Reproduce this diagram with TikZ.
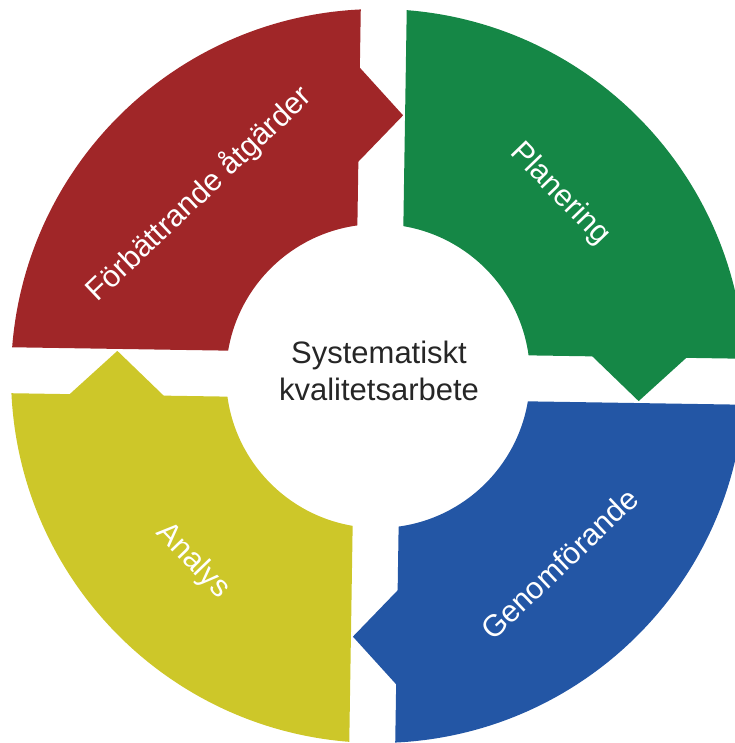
\documentclass[tikz,border=0pt]{standalone}
\usepackage{fontspec}
\setmainfont{Liberation Sans}
\definecolor{ringred}{RGB}{160,38,40}
\definecolor{ringgreen}{RGB}{21,135,70}
\definecolor{ringblue}{RGB}{35,86,165}
\definecolor{ringyellow}{RGB}{205,199,41}

\begin{document}
\begin{tikzpicture}[x=1pt, y=1pt,
  seglabel/.style={text=white, font=\fontsize{30.5}{35}\selectfont, inner sep=0pt},
  centerlabel/.style={text=black!85, font=\fontsize{31}{37}\selectfont, align=center}]
\useasboundingbox (-378,-367) rectangle (356,376);
% the four parts of the ring, each with its arrow
\fill[ringred, rotate=-0.9] (93.59:367) arc[start angle=93.59, end angle=176.41, radius=367] -- (171.3:152) arc[start angle=171.3, end angle=98.7, radius=152] -- (-23,214) -- (21,261) -- (-23,308) -- cycle;
\fill[ringgreen, rotate=-90.9] (93.59:367) arc[start angle=93.59, end angle=176.41, radius=367] -- (171.3:152) arc[start angle=171.3, end angle=98.7, radius=152] -- (-23,214) -- (21,261) -- (-23,308) -- cycle;
\fill[ringblue, rotate=-180.9] (93.59:367) arc[start angle=93.59, end angle=176.41, radius=367] -- (171.3:152) arc[start angle=171.3, end angle=98.7, radius=152] -- (-23,214) -- (21,261) -- (-23,308) -- cycle;
\fill[ringyellow, rotate=89.1] (93.59:367) arc[start angle=93.59, end angle=176.41, radius=367] -- (171.3:152) arc[start angle=171.3, end angle=98.7, radius=152] -- (-23,214) -- (21,261) -- (-23,308) -- cycle;
% labels
\node[seglabel, rotate=43.5] (forb) at (134.5:255) {Förbättrande åtgärder};
\node[seglabel, rotate=-46] (plan) at (45:257) {Planering};
\node[seglabel, rotate=43.5] (genom) at (-46:261) {Genomförande};
\node[seglabel, rotate=-46] (analys) at (225:262) {Analys};
\node[centerlabel] (center) at (1,5) {Systematiskt\\kvalitetsarbete};
\end{tikzpicture}
\end{document}
